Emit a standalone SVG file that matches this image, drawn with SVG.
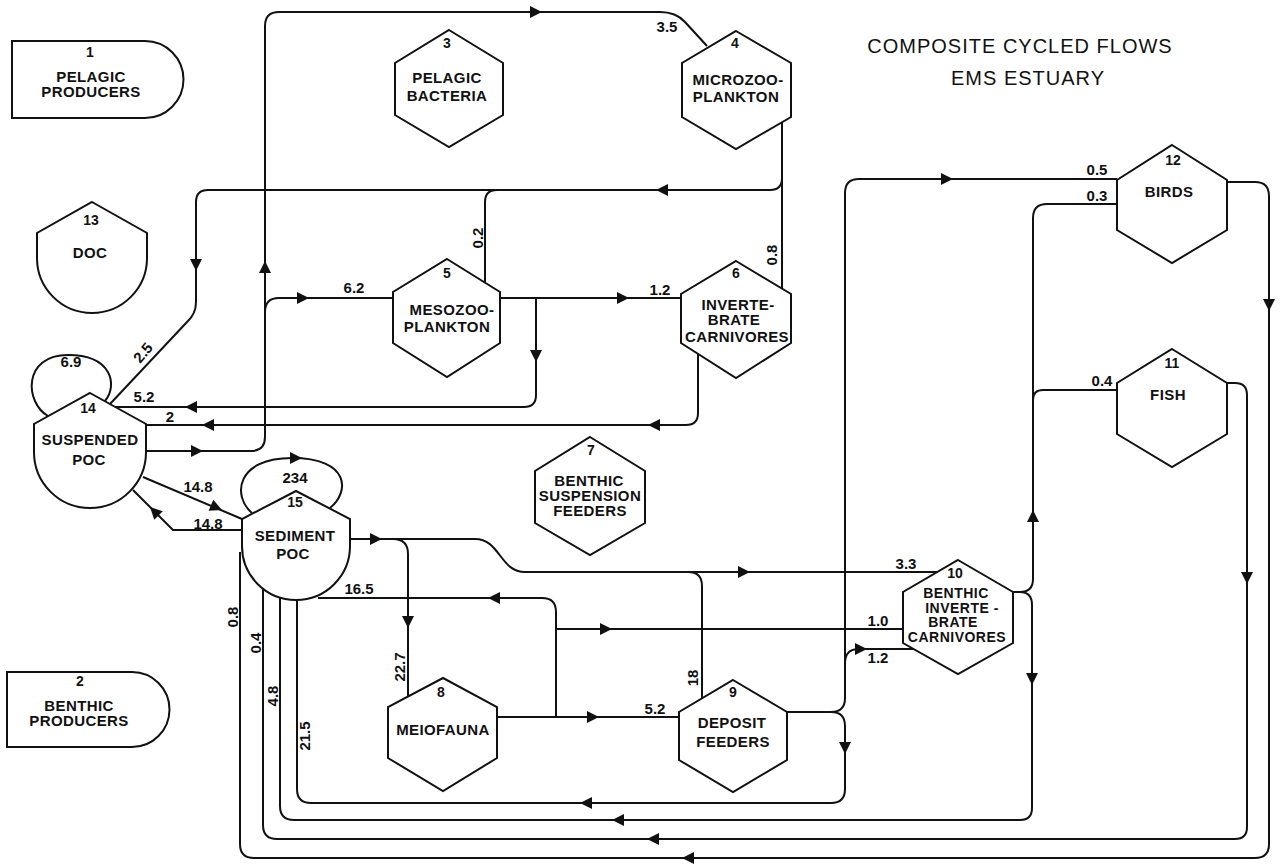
<svg xmlns="http://www.w3.org/2000/svg" xmlns:xlink="http://www.w3.org/1999/xlink" width="1287" height="865" viewBox="0 0 1287 865">
<style>
.bg{fill:#fff}
.node{fill:#fff;stroke:#111;stroke-width:2;stroke-linejoin:miter}
.c{fill:none;stroke:#111;stroke-width:2}
.ah{fill:#111}
.t{font-family:"Liberation Sans",Arial,Helvetica,sans-serif;font-weight:bold;font-size:15px;text-anchor:middle;letter-spacing:0.4px;fill:#111}
.sm{font-size:14px;letter-spacing:0.5px}
.n{font-family:"Liberation Sans",Arial,Helvetica,sans-serif;font-weight:bold;font-size:14px;text-anchor:middle;fill:#111}
.e{font-family:"Liberation Sans",Arial,Helvetica,sans-serif;font-weight:bold;font-size:15px;text-anchor:middle;fill:#111}
.title{font-family:"Liberation Sans",Arial,Helvetica,sans-serif;font-size:20px;text-anchor:middle;letter-spacing:1px;fill:#111}
</style>
<defs>
<path id="ah" class="ah" d="M0,0 L-12,-6 L-12,6 Z"/>
</defs>
<rect class="bg" x="0" y="0" width="1287" height="865"/>

<g id="title">
<text class="title" x="1020" y="53">COMPOSITE CYCLED FLOWS</text>
<text class="title" x="1028" y="85">EMS ESTUARY</text>
</g>

<g id="connectors">
<path class="c" d="M146,451 H251 Q265,451 265,437 V26 Q265,12 279,12 H660 Q676,12 685,22 L707,46"/>
<path class="c" d="M265,312 Q265,298 279,298 H393"/>
<path class="c" d="M782,122 V289"/>
<path class="c" d="M782,178 Q782,190 770,190 H208 Q196,190 196,202 V302 Q196,314 187,322 L110,404"/>
<path class="c" d="M485,283 V202 Q485,190 497,190"/>
<path class="c" d="M500,298 H681"/>
<path class="c" d="M536,298 V395 Q536,407 524,407 H115"/>
<path class="c" d="M698,354 V413 Q698,425 686,425 H146"/>
<path class="c" d="M143,477 L242,519"/>
<path class="c" d="M242,530 H173 L133,490"/>
<path class="c" d="M48,416 C25,403 22,355 68,355 C112,355 118,385 105,401"/>
<path class="c" d="M252,513 C232,496 236,458 292,458 C350,458 350,492 330,508"/>
<path class="c" d="M350,539 H475 C500,539 500,572 525,572 H937"/>
<path class="c" d="M393,539 Q408,539 408,554 V697"/>
<path class="c" d="M702,698 V586 Q702,572 688,572"/>
<path class="c" d="M497,717 H679"/>
<path class="c" d="M556,717 V612 Q556,598 542,598 H318"/>
<path class="c" d="M556,629 H903"/>
<path class="c" d="M787,712 H831 Q845,712 845,698 V193 Q845,179 859,179 H1117"/>
<path class="c" d="M845,663 Q845,649 859,649 H914"/>
<path class="c" d="M831,712 Q845,712 845,726 V789 Q845,803 831,803 H311 Q297,803 297,789 V600"/>
<path class="c" d="M1013,592 H1020 Q1033,592 1033,579 V218 Q1033,204 1047,204 H1117"/>
<path class="c" d="M1117,390 H1043 Q1033,390 1033,400"/>
<path class="c" d="M1020,592 Q1032,592 1032,605 V808 Q1032,820 1020,820 H294 Q280,820 280,806 V598"/>
<path class="c" d="M1227,383 H1235 Q1247,383 1247,395 V827 Q1247,839 1235,839 H277 Q263,839 263,825 V589"/>
<path class="c" d="M1227,182 H1255 Q1269,182 1269,196 V844 Q1269,858 1255,858 H254 Q240,858 240,844 V552"/>

<use xlink:href="#ah" href="#ah" transform="translate(542,12)"/>
<use xlink:href="#ah" href="#ah" transform="translate(265,261) rotate(-90)"/>
<use xlink:href="#ah" href="#ah" transform="translate(309,298)"/>
<use xlink:href="#ah" href="#ah" transform="translate(203,451)"/>
<use xlink:href="#ah" href="#ah" transform="translate(656,190) rotate(180)"/>
<use xlink:href="#ah" href="#ah" transform="translate(196,271) rotate(90)"/>
<use xlink:href="#ah" href="#ah" transform="translate(629,298)"/>
<use xlink:href="#ah" href="#ah" transform="translate(536,362) rotate(90)"/>
<use xlink:href="#ah" href="#ah" transform="translate(185,407) rotate(180)"/>
<use xlink:href="#ah" href="#ah" transform="translate(648,425) rotate(180)"/>
<use xlink:href="#ah" href="#ah" transform="translate(202,425) rotate(180)"/>
<use xlink:href="#ah" href="#ah" transform="translate(222,510) rotate(23)"/>
<use xlink:href="#ah" href="#ah" transform="translate(150,507) rotate(-135)"/>
<use xlink:href="#ah" href="#ah" transform="translate(302,458)"/>
<use xlink:href="#ah" href="#ah" transform="translate(382,539)"/>
<use xlink:href="#ah" href="#ah" transform="translate(408,628) rotate(90)"/>
<use xlink:href="#ah" href="#ah" transform="translate(750,572)"/>
<use xlink:href="#ah" href="#ah" transform="translate(488,598) rotate(180)"/>
<use xlink:href="#ah" href="#ah" transform="translate(612,629)"/>
<use xlink:href="#ah" href="#ah" transform="translate(599,717)"/>
<use xlink:href="#ah" href="#ah" transform="translate(867,649)"/>
<use xlink:href="#ah" href="#ah" transform="translate(845,754) rotate(90)"/>
<use xlink:href="#ah" href="#ah" transform="translate(580,803) rotate(180)"/>
<use xlink:href="#ah" href="#ah" transform="translate(612,820) rotate(180)"/>
<use xlink:href="#ah" href="#ah" transform="translate(647,839) rotate(180)"/>
<use xlink:href="#ah" href="#ah" transform="translate(682,858) rotate(180)"/>
<use xlink:href="#ah" href="#ah" transform="translate(1032,685) rotate(90)"/>
<use xlink:href="#ah" href="#ah" transform="translate(1247,584) rotate(90)"/>
<use xlink:href="#ah" href="#ah" transform="translate(1269,311) rotate(90)"/>
<use xlink:href="#ah" href="#ah" transform="translate(1033,510) rotate(-90)"/>
<use xlink:href="#ah" href="#ah" transform="translate(953,179)"/>

<text class="e" x="667" y="32">3.5</text>
<text class="e" x="354" y="293">6.2</text>
<text class="e" x="660" y="295">1.2</text>
<text class="e" x="144" y="402">5.2</text>
<text class="e" x="170" y="422">2</text>
<text class="e" x="71" y="367">6.9</text>
<text class="e" x="198" y="492">14.8</text>
<text class="e" x="208" y="529">14.8</text>
<text class="e" x="295" y="483">234</text>
<text class="e" x="359" y="594">16.5</text>
<text class="e" x="906" y="569">3.3</text>
<text class="e" x="878" y="626">1.0</text>
<text class="e" x="878" y="663">1.2</text>
<text class="e" x="655" y="714">5.2</text>
<text class="e" x="1097" y="175">0.5</text>
<text class="e" x="1097" y="201">0.3</text>
<text class="e" x="1102" y="386">0.4</text>
<text class="e" transform="translate(483,238) rotate(-90)">0.2</text>
<text class="e" transform="translate(777,255) rotate(-90)">0.8</text>
<text class="e" transform="translate(405,667) rotate(-90)">22.7</text>
<text class="e" transform="translate(698,678) rotate(-90)">18</text>
<text class="e" transform="translate(238,617) rotate(-90)">0.8</text>
<text class="e" transform="translate(261,643) rotate(-90)">0.4</text>
<text class="e" transform="translate(278,696) rotate(-90)">4.8</text>
<text class="e" transform="translate(310,736) rotate(-90)">21.5</text>
<text class="e" transform="translate(147,356) rotate(-50)">2.5</text>
</g>

<g id="node1">
<path class="node" d="M12,41 H145 A38.5,38.5 0 0 1 145,118 H12 Z"/>
<text class="n" x="90" y="57">1</text>
<text class="t" x="91" y="82">PELAGIC</text>
<text class="t" x="91" y="97">PRODUCERS</text>
</g>
<g id="node2">
<path class="node" d="M7,672 H132 A37.5,37.5 0 0 1 132,747 H7 Z"/>
<text class="n" x="80" y="686">2</text>
<text class="t" x="79" y="711">BENTHIC</text>
<text class="t" x="79" y="726">PRODUCERS</text>
</g>
<g id="node3">
<polygon class="node" points="449,30 503,63 503,115 449,147 395,115 395,63"/>
<text class="n" x="447" y="48">3</text>
<text class="t" x="447" y="83">PELAGIC</text>
<text class="t" x="447" y="101">BACTERIA</text>
</g>
<g id="node4">
<polygon class="node" points="736,31 791,63 791,117 736,149 682,117 682,63"/>
<text class="n" x="735" y="48">4</text>
<text class="t" x="738" y="85">MICROZOO-</text>
<text class="t" x="736" y="102">PLANKTON</text>
</g>
<g id="node5">
<polygon class="node" points="447,259 500,292 500,343 447,377 393,343 393,292"/>
<text class="n" x="447" y="278">5</text>
<text class="t" x="452" y="315">MESOZOO-</text>
<text class="t" x="447" y="332">PLANKTON</text>
</g>
<g id="node6">
<polygon class="node" points="736,261 791,294 791,343 736,378 681,343 681,294"/>
<text class="n" x="736" y="278">6</text>
<text class="t" x="738" y="310">INVERTE-</text>
<text class="t" x="734" y="325">BRATE</text>
<text class="t" x="737" y="342">CARNIVORES</text>
</g>
<g id="node7">
<polygon class="node" points="590,437 645,471 645,523 590,555 535,523 535,471"/>
<text class="n" x="591" y="455">7</text>
<text class="t" x="589" y="486">BENTHIC</text>
<text class="t" x="590" y="501">SUSPENSION</text>
<text class="t" x="590" y="516">FEEDERS</text>
</g>
<g id="node8">
<polygon class="node" points="443,678 497,707 497,758 443,791 388,758 388,707"/>
<text class="n" x="441" y="697">8</text>
<text class="t" x="443" y="735">MEIOFAUNA</text>
</g>
<g id="node9">
<polygon class="node" points="733,680 787,712 787,760 733,792 679,760 679,712"/>
<text class="n" x="733" y="697">9</text>
<text class="t" x="732" y="728">DEPOSIT</text>
<text class="t" x="733" y="747">FEEDERS</text>
</g>
<g id="node10">
<polygon class="node" points="958,560 1013,592 1013,643 958,674 903,643 903,592"/>
<text class="n" x="955" y="578">10</text>
<text class="t sm" x="956" y="598">BENTHIC</text>
<text class="t sm" x="962" y="613">INVERTE -</text>
<text class="t sm" x="953" y="627">BRATE</text>
<text class="t sm" x="957" y="642">CARNIVORES</text>
</g>
<g id="node11">
<polygon class="node" points="1172,349 1227,383 1227,434 1172,467 1117,434 1117,383"/>
<text class="n" x="1172" y="368">11</text>
<text class="t" x="1168" y="400">FISH</text>
</g>
<g id="node12">
<polygon class="node" points="1172,145 1227,180 1227,230 1172,263 1117,230 1117,180"/>
<text class="n" x="1173" y="165">12</text>
<text class="t" x="1169" y="197">BIRDS</text>
</g>
<g id="node13">
<path class="node" d="M92,202 L147,233 V258 A55,55 0 0 1 37,258 V233 Z"/>
<text class="n" x="91" y="225">13</text>
<text class="t" x="90" y="258">DOC</text>
</g>
<g id="node14">
<path class="node" d="M90,393 L146,424 V452 A56,56 0 0 1 34,452 V424 Z"/>
<text class="n" x="88" y="413">14</text>
<text class="t" x="90" y="445">SUSPENDED</text>
<text class="t" x="89" y="465">POC</text>
</g>
<g id="node15">
<path class="node" d="M296,491 L350,519 V546 A54,54 0 0 1 242,546 V519 Z"/>
<text class="n" x="295" y="507">15</text>
<text class="t" x="295" y="541">SEDIMENT</text>
<text class="t" x="293" y="559">POC</text>
</g>
</svg>
